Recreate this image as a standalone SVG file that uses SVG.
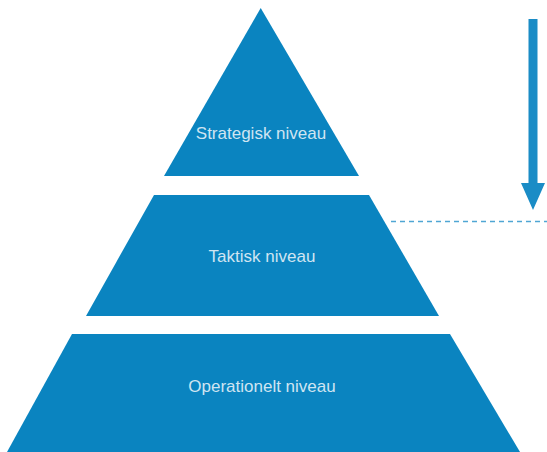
<svg xmlns="http://www.w3.org/2000/svg" width="547" height="452" viewBox="0 0 547 452">
<style>
.tier{fill:#0a84c0}
.lbl{font-family:"Liberation Sans",Arial,sans-serif;font-size:17px;fill:#cfe5f2;text-anchor:middle}
.dash{stroke:#4fa6d4;stroke-width:1.5;stroke-dasharray:5 4;fill:none}
.arrow{fill:#1a8cc6}
</style>
<rect width="547" height="452" fill="#ffffff"/>
<g id="strategisk">
<polygon class="tier" points="260.7,8 359,176 164,176"/>
<text class="lbl" x="261" y="139">Strategisk niveau</text>
</g>
<g id="taktisk">
<polygon class="tier" points="154,195 369,195 439,316 86,316"/>
<text class="lbl" x="262" y="262">Taktisk niveau</text>
</g>
<g id="operationelt">
<polygon class="tier" points="72,334 450,334 520,452 7,452"/>
<text class="lbl" x="262" y="392">Operationelt niveau</text>
</g>
<g id="connectors">
<polygon class="arrow" points="528.5,19 537.5,19 537.5,183 545,183 533,210 521,183 528.5,183"/>
<line class="dash" x1="391" y1="221.5" x2="547" y2="221.5"/>
</g>
</svg>
